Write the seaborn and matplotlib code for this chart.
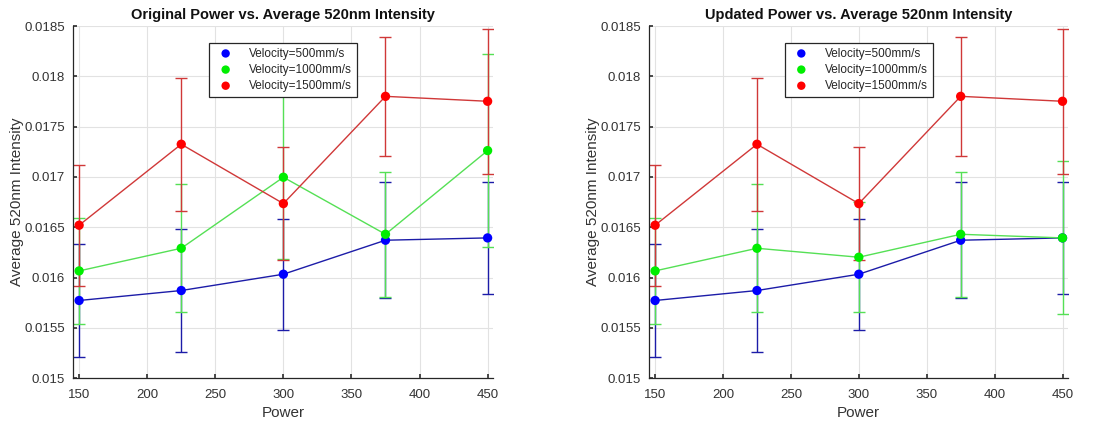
import numpy as np
import pandas as pd
import matplotlib
matplotlib.use("Agg")
import matplotlib.pyplot as plt
import seaborn as sns

power = [150, 225, 300, 375, 450]
labels = ["Velocity=500mm/s", "Velocity=1000mm/s", "Velocity=1500mm/s"]

# Original panel
orig_500 = [0.015772, 0.015871, 0.016033, 0.016371, 0.016394]
orig_500_err = [0.000565, 0.000607, 0.000550, 0.000575, 0.000560]
orig_1000 = [0.016066, 0.016291, 0.016997, 0.016430, 0.017262]
orig_1000_err = [0.000530, 0.000636, 0.000810, 0.000620, 0.000960]
orig_1500 = [0.016520, 0.017325, 0.016735, 0.017801, 0.017752]
orig_1500_err = [0.000600, 0.000660, 0.000560, 0.000590, 0.000720]

# Updated panel
upd_500 = [0.015772, 0.015871, 0.016033, 0.016371, 0.016394]
upd_500_err = [0.000565, 0.000607, 0.000550, 0.000575, 0.000560]
upd_1000 = [0.016066, 0.016291, 0.016202, 0.016430, 0.016394]
upd_1000_err = [0.000530, 0.000636, 0.000545, 0.000620, 0.000760]
upd_1500 = [0.016520, 0.017325, 0.016735, 0.017801, 0.017752]
upd_1500_err = [0.000600, 0.000660, 0.000560, 0.000590, 0.000720]

titles = ["Original Power vs. Average 520nm Intensity",
          "Updated Power vs. Average 520nm Intensity"]

line_colors = ["#1c1ca8", "#55e055", "#d03838"]
marker_colors = ["#0000ff", "#00ee00", "#ff0000"]

sns.set_theme(style="whitegrid")
plt.rcParams['font.family'] = ['Liberation Sans', 'DejaVu Sans']

fig = plt.figure(figsize=(11.06, 4.23), dpi=100)
axes = [fig.add_axes([0.066, 0.106, 0.3798, 0.8325]),
        fig.add_axes([0.5868, 0.106, 0.3788, 0.8325])]

panels = [
    [(orig_500, orig_500_err), (orig_1000, orig_1000_err), (orig_1500, orig_1500_err)],
    [(upd_500, upd_500_err), (upd_1000, upd_1000_err), (upd_1500, upd_1500_err)],
]

for ax, series, title in zip(axes, panels, titles):
    frames = []
    for lab, (vals, errs) in zip(labels, series):
        frames.append(pd.DataFrame({"Power": power, "Intensity": vals, "err": errs, "Series": lab}))
    df = pd.concat(frames, ignore_index=True)
    for i, lab in enumerate(labels):
        sub = df[df["Series"] == lab]
        ax.errorbar(sub["Power"], sub["Intensity"], yerr=sub["err"], fmt="none",
                    ecolor=line_colors[i], elinewidth=1.0, capsize=4, capthick=1.0, zorder=2)
    sns.lineplot(data=df, x="Power", y="Intensity", hue="Series", hue_order=labels,
                 palette=line_colors, ax=ax, linewidth=1.0, legend=False, zorder=3,
                 estimator=None, sort=False)
    for i, lab in enumerate(labels):
        sub = df[df["Series"] == lab]
        ax.scatter(sub["Power"], sub["Intensity"], s=45, color=marker_colors[i],
                   edgecolor="none", zorder=4, label=lab)
    ax.set_xlim(145.5, 454)
    ax.set_ylim(0.015, 0.0185)
    ax.set_xticks([150, 200, 250, 300, 350, 400, 450])
    yt = [0.015, 0.0155, 0.016, 0.0165, 0.017, 0.0175, 0.018, 0.0185]
    ax.set_yticks(yt)
    ax.set_yticklabels(["0.015", "0.0155", "0.016", "0.0165", "0.017", "0.0175", "0.018", "0.0185"])
    ax.tick_params(axis="both", labelsize=9.5, colors="#333333", length=3, direction="in",
                   left=True, bottom=True)
    ax.tick_params(axis="y", pad=6)
    ax.tick_params(axis="x", pad=8)
    ax.grid(True, color="#e2e2e2", linewidth=0.8)
    ax.set_facecolor("white")
    for side in ["top", "right"]:
        ax.spines[side].set_visible(False)
    for side in ["left", "bottom"]:
        ax.spines[side].set_color("#262626")
        ax.spines[side].set_linewidth(0.9)
    ax.set_xlabel("Power", fontsize=11, color="#333333")
    ax.set_ylabel("Average 520nm Intensity", fontsize=11, color="#333333")
    ax.yaxis.set_label_coords(-0.117, 0.5)
    ax.xaxis.set_label_coords(0.5, -0.078)
    ax.set_title(title, fontsize=10.5, fontweight="bold", color="#111111", pad=5)
    leg = ax.legend(loc="upper left", bbox_to_anchor=(0.31, 0.969), fontsize=8.5,
                    frameon=True, fancybox=False, borderpad=0.4, handletextpad=1.0,
                    labelspacing=0.35, handlelength=2.0, markerscale=0.9)
    leg.get_frame().set_edgecolor("#262626")
    leg.get_frame().set_linewidth(0.9)
    leg.get_frame().set_alpha(1)

fig.savefig("out.png", dpi=100, facecolor="white")
